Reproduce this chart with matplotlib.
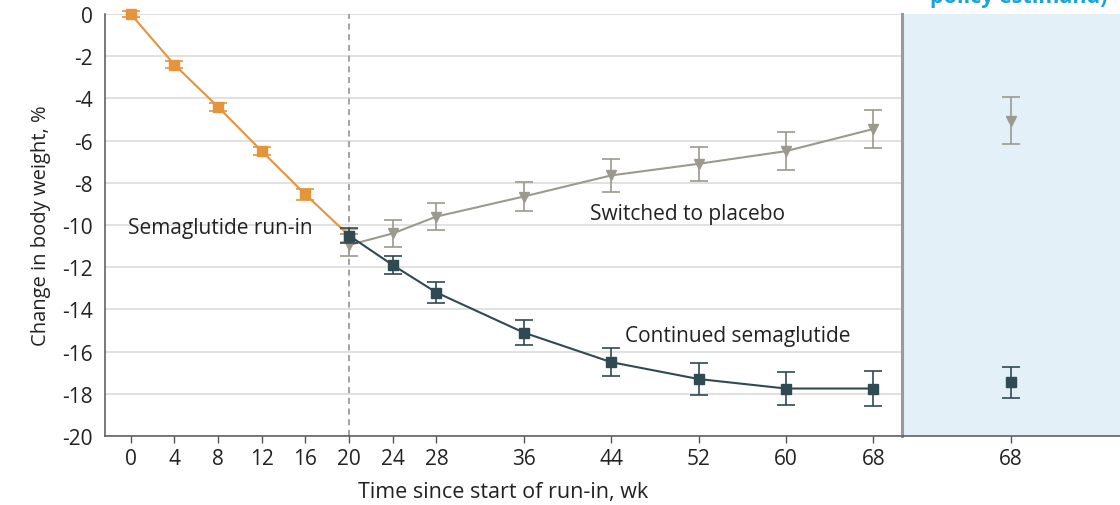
import matplotlib
matplotlib.use("Agg")
import matplotlib.pyplot as plt

plt.rcParams['font.family'] = ['Open Sans', 'DejaVu Sans']
plt.rcParams['axes.unicode_minus'] = False

# Data
runin_weeks = [0, 4, 8, 12, 16, 20]
runin_vals = [0.0, -2.4, -4.4, -6.5, -8.55, -10.5]
runin_err = [0.12, 0.18, 0.2, 0.2, 0.25, 0.3]

cont_weeks = [20, 24, 28, 36, 44, 52, 60, 68]
cont_vals = [-10.5, -11.9, -13.2, -15.1, -16.5, -17.3, -17.75, -17.75]
cont_err = [0.35, 0.43, 0.52, 0.6, 0.65, 0.77, 0.79, 0.82]

plac_weeks = [20, 24, 28, 36, 44, 52, 60, 68]
plac_vals = [-10.95, -10.4, -9.6, -8.65, -7.65, -7.1, -6.5, -5.45]
plac_err = [0.5, 0.63, 0.65, 0.71, 0.79, 0.8, 0.9, 0.91]

right_plac_val, right_plac_err = -5.05, 1.12
right_cont_val, right_cont_err = -17.45, 0.73

xticks = [0, 4, 8, 12, 16, 20, 24, 28, 36, 44, 52, 60, 68]
yticks = list(range(0, -21, -2))
right_tick_label = "68"

ORANGE = "#E5943C"
DARK = "#2F4A52"
GRAY = "#9C9A8E"
SPINE = "#555555"
TXT = "#222222"

W, H = 1120, 506
fig = plt.figure(figsize=(W / 100, H / 100), dpi=100)

ax_l, ax_b, ax_t = 105 / W, 1 - 437 / H, 1 - 15 / H
split = 902 / W
ax = fig.add_axes([ax_l, ax_b, split - ax_l, ax_t - ax_b])
ax2 = fig.add_axes([split, ax_b, 1 - split, ax_t - ax_b], sharey=ax)

ax.set_ylim(-20, 0)
ax.set_xlim(-2.35, 70.63)
ax.set_yticks(yticks)
ax.set_yticklabels([str(v) for v in yticks])
ax.set_xticks(xticks)
ax.set_xticklabels([str(v) for v in xticks])
for y in yticks:
    ax.axhline(y, color="#DEDEDE", lw=1.3, zorder=0)

ax.axvline(20, color="#8A8A8A", lw=1.1, ls=(0, (4, 3)), zorder=1)

ekw = dict(capsize=6.5, capthick=1.2, elinewidth=1.2, lw=1.5, markersize=7.5, clip_on=False)
ax.errorbar(runin_weeks, runin_vals, yerr=runin_err, color=ORANGE, marker="s", zorder=3, **ekw)
ax.errorbar(plac_weeks, plac_vals, yerr=plac_err, color=GRAY, marker="v", zorder=4, **ekw)
ax.errorbar(cont_weeks, cont_vals, yerr=cont_err, color=DARK, marker="s", zorder=5, **ekw)

ax.text(-0.25, -10.02, "Semaglutide run-in", fontsize=15, color=TXT, ha="left", va="center_baseline")
ax.text(42.06, -9.34, "Switched to placebo", fontsize=15, color=TXT, ha="left", va="center_baseline")
ax.text(45.27, -15.1, "Continued semaglutide", fontsize=15, color=TXT, ha="left", va="center_baseline")

for s in ["top", "right"]:
    ax.spines[s].set_visible(False)
for s in ["left", "bottom"]:
    ax.spines[s].set_color(SPINE)
    ax.spines[s].set_linewidth(1.1)
ax.tick_params(axis="both", colors=SPINE, labelcolor=TXT, labelsize=15, length=5, width=1)
ax.tick_params(axis="y", length=0, pad=9)
ax.tick_params(axis="x", pad=4)
ax.set_ylabel("Change in body weight, %", fontsize=14.5, color=TXT, labelpad=8)
ax.set_xlabel("Time since start of run-in, wk", fontsize=15.5, color=TXT, labelpad=8)

# Right panel
ax2.set_facecolor("#E3F0F7")
ax2.set_xlim(0, 1)
ax2.errorbar([0.5], [right_plac_val], yerr=[right_plac_err], color=GRAY, marker="v", **ekw)
ax2.errorbar([0.5], [right_cont_val], yerr=[right_cont_err], color=DARK, marker="s", **ekw)
ax2.set_xticks([0.5])
ax2.set_xticklabels([right_tick_label])
ax2.tick_params(axis="x", colors=SPINE, labelcolor=TXT, labelsize=15, length=5, width=1, pad=4)
ax2.tick_params(axis="y", left=False, labelleft=False)
for s in ["top", "right"]:
    ax2.spines[s].set_visible(False)
ax2.spines["left"].set_color("#9A9A9A")
ax2.spines["left"].set_linewidth(2.2)
ax2.spines["bottom"].set_color(SPINE)
ax2.spines["bottom"].set_linewidth(1.1)

fig.text(1019 / W, 1 - 3 / H, "policy estimand)", fontsize=15.5, fontweight="bold",
         color="#1BA3DB", ha="center", va="baseline")

fig.savefig("out.png", dpi=100)
